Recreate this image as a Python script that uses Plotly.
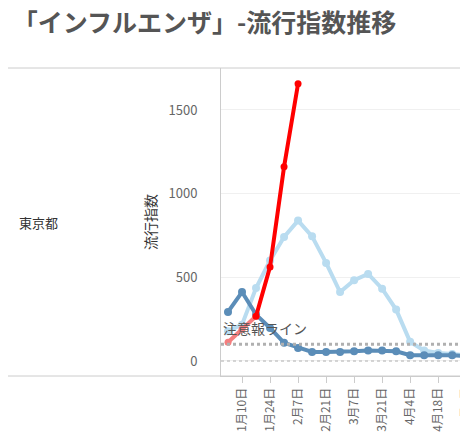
import plotly.graph_objects as go
import pandas as pd

dates = pd.date_range("2021-01-03", periods=19, freq="7D")
red = [112, 190, 267, 562, 1160, 1657]
light = [178, 217, 436, 600, 741, 839, 745, 586, 412, 482, 520, 432, 307, 114, 62, 48, 42, 34, 22]
dark = [293, 412, 277, 197, 108, 78, 54, 54, 54, 58, 62, 62, 58, 34, 34, 34, 34, 28, 18]
alert = 100
tick_dates = pd.date_range("2021-01-10", periods=9, freq="14D")
tick_labels = [f"{d.month}月{d.day}日" for d in tick_dates]

fig = go.Figure()
fig.add_trace(go.Scatter(x=dates, y=light, mode="lines+markers",
                         line=dict(color="#b9dcf0", width=4), marker=dict(size=8, color="#b9dcf0")))
fig.add_trace(go.Scatter(x=dates, y=dark, mode="lines+markers",
                         line=dict(color="#5b8db8", width=4), marker=dict(size=8, color="#5b8db8")))
fig.add_trace(go.Scatter(x=dates[:3], y=red[:3], mode="lines+markers",
                         line=dict(color="#f47f7f", width=4), marker=dict(size=7, color="#f47f7f")))
fig.add_trace(go.Scatter(x=dates[2:len(red)], y=red[2:], mode="lines+markers",
                         line=dict(color="#ff0000", width=4), marker=dict(size=7, color="#ff0000")))

fig.add_hline(y=alert, line=dict(color="#b0b0b0", width=3, dash="dot"))
fig.add_hline(y=0, line=dict(color="#c8c8c8", width=1.5, dash="dot"))
fig.add_annotation(x=0, xref="paper", y=alert, yshift=4, text="注意報ライン", showarrow=False,
                   xanchor="left", yanchor="bottom", font=dict(size=14, color="#555"))

x0 = dates[0] - pd.Timedelta(days=3.5)
x1 = dates[0] + pd.Timedelta(days=17.7 * 7)
fig.update_layout(
    width=468, height=445, margin=dict(l=213, r=0, t=60, b=77),
    plot_bgcolor="white", paper_bgcolor="white", showlegend=False,
    font=dict(family="Noto Sans CJK JP", color="#666"),
    title=dict(text="<b>「インフルエンザ」-流行指数推移</b>", x=0.01, y=0.985, xanchor="left",
               yanchor="top", font=dict(size=25, color="#555")),
    xaxis=dict(range=[x0, x1], tickvals=tick_dates, ticktext=tick_labels, tickangle=-90,
               showgrid=False, ticks="outside", ticklen=6, tickcolor="#ccc",
               tickfont=dict(size=12, color="#666"), showline=True, linecolor="#ccc"),
    yaxis=dict(range=[-90, 1751], tickvals=[0, 500, 1000, 1500], gridcolor="#f0f0f0",
               zeroline=False, showline=True, linecolor="#ccc", ticklen=0,
               tickfont=dict(size=13, color="#666"), ticklabelstandoff=20,
               title=dict(text="流行指数", font=dict(size=14, color="#333"), standoff=8)),
)
fig.add_shape(type="line", xref="paper", yref="paper", x0=-1, x1=1, y0=1, y1=1,
              line=dict(color="#ccc", width=1))
fig.add_shape(type="line", xref="paper", yref="paper", x0=-1, x1=1, y0=0, y1=0,
              line=dict(color="#ccc", width=1))
fig.add_annotation(x=-0.8, xref="paper", y=0.5, yref="paper", text="東京都", showarrow=False,
                   xanchor="left", font=dict(size=13, color="#333"))
fig.write_html("out.html")
